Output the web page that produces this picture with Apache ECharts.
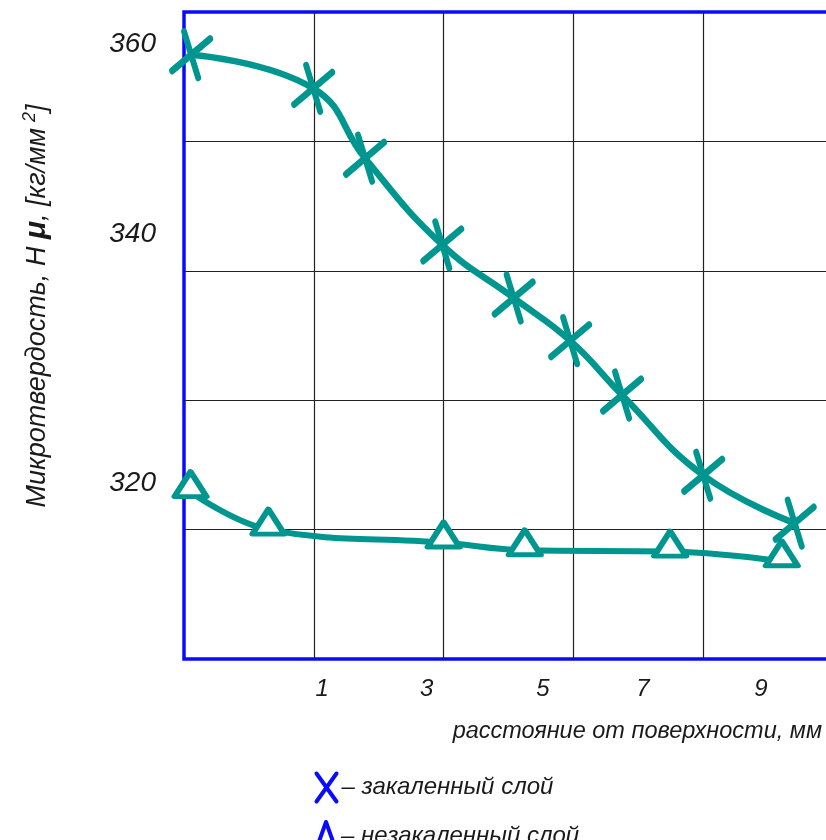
<!DOCTYPE html>
<html>
<head>
<meta charset="utf-8">
<title>Микротвердость</title>
<script src="https://cdn.jsdelivr.net/npm/echarts@6/dist/echarts.min.js"></script>
<style>
  html, body { margin: 0; padding: 0; background: #ffffff; }
  #chart { width: 826px; height: 840px; }
</style>
</head>
<body>
<div id="chart"></div>
<script>
// Hardened layer: distance from surface (mm) and microhardness
const distHardened = [0.11, 1.99, 2.79, 3.98, 5.08, 5.95, 6.75, 8.0, 9.41];
const hvHardened   = [356.7, 354.1, 348.7, 342.0, 337.9, 334.6, 330.4, 324.2, 320.5];

// Unhardened layer
const distSoft = [0.1, 1.3, 4.0, 5.25, 7.49, 9.21];
const hvSoft   = [322.9, 320.0, 319.0, 318.4, 318.3, 317.55];

const seriesNames = ['закаленный слой', 'незакаленный слой'];

// Tick labels and the axis values they sit at
const xTickLabels = ['1', '3', '5', '7', '9'];
const xTickAt     = [2.13, 3.74, 5.53, 7.07, 8.89];
const yTickLabels = ['360', '340', '320'];
const yTickAt     = [357.5, 342.8, 323.6];

const TEAL = '#009690';
const BLUE = '#0a0aff';
const INK = '#1a1a1a';
const FONT = "'Liberation Sans', 'DejaVu Sans', sans-serif";

const zip = (xs, ys) => xs.map((x, i) => [x, ys[i]]);

const legendText = { color: INK, fontFamily: FONT, fontStyle: 'italic', fontSize: 24 };

const chart = echarts.init(document.getElementById('chart'), null, { renderer: 'canvas' });

chart.setOption({
  backgroundColor: '#ffffff',
  animation: false,
  grid: {
    left: 184, top: 12, width: 649, height: 647,
    outerBoundsMode: 'none', containLabel: false,
    show: true, borderColor: BLUE, borderWidth: 3.5, backgroundColor: 'transparent'
  },
  xAxis: {
    type: 'value', min: 0, max: 10, interval: 2,
    axisLine: { show: false }, axisTick: { show: false },
    splitLine: { show: true, showMinLine: false, showMaxLine: false, lineStyle: { color: '#222', width: 1.2 } },
    axisLabel: {
      customValues: xTickAt,
      formatter: v => xTickLabels[xTickAt.indexOf(v)] ?? '',
      margin: 18, color: INK, fontFamily: FONT, fontStyle: 'italic', fontSize: 24
    }
  },
  yAxis: {
    type: 'value', min: 310, max: 360, interval: 10,
    axisLine: { show: false }, axisTick: { show: false },
    splitLine: { show: true, showMinLine: false, showMaxLine: false, lineStyle: { color: '#222', width: 1.2 } },
    axisLabel: {
      customValues: yTickAt,
      formatter: v => yTickLabels[yTickAt.indexOf(v)] ?? '',
      margin: 28, color: INK, fontFamily: FONT, fontStyle: 'italic', fontSize: 28
    }
  },
  legend: [
    {
      left: 314, top: 771, padding: 0, itemWidth: 20, itemHeight: 28, itemGap: 4, selectedMode: false,
      formatter: n => '– ' + n, textStyle: legendText,
      data: [{ name: seriesNames[0], icon: 'path://M0,0L20,28M20,0L0,28',
               itemStyle: { color: 'none', borderColor: BLUE, borderWidth: 4 } }]
    },
    {
      left: 314, top: 820, padding: 0, itemWidth: 20, itemHeight: 28, itemGap: 4, selectedMode: false,
      formatter: n => '– ' + n, textStyle: legendText,
      data: [{ name: seriesNames[1], icon: 'triangle',
               itemStyle: { color: '#ffffff', borderColor: BLUE, borderWidth: 4 } }]
    }
  ],
  graphic: [
    {
      type: 'text', x: 37, y: 306, rotation: Math.PI / 2, silent: true,
      style: {
        text: 'Микротвердость, H {mu|μ}, [кг/мм{sup|2}]',
        align: 'center', verticalAlign: 'middle',
        fill: INK, font: 'italic 27px ' + FONT,
        rich: {
          mu: { fontSize: 30, fontWeight: 'bold', fontStyle: 'italic', fontFamily: FONT, fill: INK },
          sup: { fontSize: 18, fontStyle: 'italic', fontFamily: FONT, fill: INK, verticalAlign: 'top', padding: [0, 0, 14, 6] }
        }
      }
    },
    {
      type: 'text', x: 822, y: 731, silent: true,
      style: {
        text: 'расстояние от поверхности, мм',
        align: 'right', verticalAlign: 'middle',
        fill: INK, font: 'italic 23.5px ' + FONT
      }
    }
  ],
  series: [
    {
      name: seriesNames[0], type: 'line', data: zip(distHardened, hvHardened),
      smooth: 0.45, z: 3, silent: true,
      lineStyle: { color: TEAL, width: 6.5 },
      symbol: 'path://M12,0L26,46M0,39L38,7', symbolSize: [38, 46],
      itemStyle: { color: TEAL, borderColor: TEAL, borderWidth: 6.5, borderCap: 'round' }
    },
    {
      name: seriesNames[1], type: 'line', data: zip(distSoft, hvSoft),
      smooth: 0.4, z: 3, silent: true,
      lineStyle: { color: TEAL, width: 6 },
      symbol: 'triangle', symbolSize: [32, 25], symbolOffset: [0, -8],
      itemStyle: { color: '#ffffff', borderColor: TEAL, borderWidth: 5.5, borderJoin: 'round' }
    }
  ]
});
</script>
</body>
</html>
